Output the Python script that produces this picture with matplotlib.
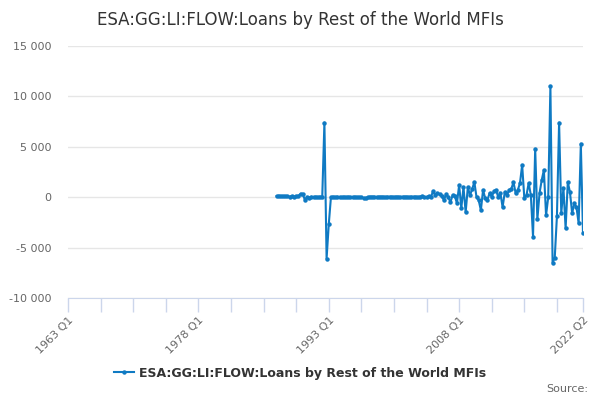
import matplotlib
matplotlib.use('Agg')
import matplotlib.pyplot as plt
from matplotlib.ticker import FuncFormatter, FixedLocator

# quarterly series, first observation 1987 Q1 (axis starts 1963 Q1)
axis_start_year = 1963
n_quarters = 238          # 1963 Q1 .. 2022 Q2
data_start = 96           # 1987 Q1
values = [
    100, 150, 100, 100, 80, 100, 50, 100, 50, 100,
    100, 350, 300, -250, 0, -50, 50, 0, 50, 0,
    50, 0, 7400, -6100, -2700,
    0, 50, 0, 50, 0, 0, 50, 0, 50, 0,
    0, 50, 0, 0, 0, -100, -100, 0, 50, 50,
    50, 0, 50, 50, 50, 0, 50, 50, 50, 0,
    50, 50, 0, 50, 50, 50, 0, 50, 50, 50,
    0, 50, 100, 0,
    0, 100, 0, 600, 200, 400, 300, 100, -300, 300,
    0, -500, 200, 100, -600, 1200, -1100, 1000, -1500, 1000,
    200, 800, 1500, 0, -300, -1300, 700, -100, -300, 400,
    0, 600, 700, 0, 400, -1000, 500, 200, 700, 800,
    1500, 400, 700, 1400, 3200, -100, 200, 1400, 200, -3900,
    4800, -2200, 400, 1700, 2700, -1800, 0, 11000, -6500, -6000,
    -1900, 7400, -1600, 900, -3100, 1500, 500, -1600, -600, -1000,
    -2600, 5300, -3600,
]
series_name = "ESA:GG:LI:FLOW:Loans by Rest of the World MFIs"
labelled_ticks = [0, 60, 120, 180, 237]


def quarter_label(i):
    return "%d Q%d" % (axis_start_year + i // 4, i % 4 + 1)


xs = list(range(data_start, data_start + len(values)))

fig = plt.figure(figsize=(6, 4), dpi=100)
ax = fig.add_axes([68 / 600, 1 - 298 / 400, 515 / 600, 252 / 400])

ax.plot(xs, values, color='#0f7ac3', lw=1.5, marker='o', ms=2.2,
        label=series_name)

ax.set_xlim(0, n_quarters - 1)
ax.set_ylim(-10000, 15000)
ax.set_yticks(range(-10000, 15001, 5000))
ax.yaxis.set_major_formatter(FuncFormatter(lambda v, p: f"{v:,.0f}".replace(',', ' ')))
ax.grid(axis='y', color='#e6e6e6', lw=1)
ax.set_axisbelow(True)

tick_pos = list(range(0, n_quarters - 1, 15)) + [n_quarters - 1]
ax.xaxis.set_major_locator(FixedLocator(tick_pos))
ax.set_xticklabels([quarter_label(t) if t in labelled_ticks else '' for t in tick_pos],
                   rotation=45, ha='right', rotation_mode='anchor')

for s in ['top', 'right', 'left']:
    ax.spines[s].set_visible(False)
ax.spines['bottom'].set_color('#ccd6eb')
ax.tick_params(axis='x', colors='#ccd6eb', length=10, width=1, labelcolor='#666666',
               labelsize=8, pad=2)
ax.tick_params(axis='y', length=0, labelcolor='#666666', labelsize=8, pad=12)

fig.text(0.5, 0.95, series_name, ha='center', va='center', fontsize=12, color='#333333')

leg = fig.legend(loc='center', bbox_to_anchor=(0.5, 1 - 373 / 400), frameon=False,
                 prop={'weight': 'bold', 'size': 9}, handlelength=1.6, handletextpad=0.4)
for t in leg.get_texts():
    t.set_color('#333333')

fig.text(588 / 600, 1 - 389 / 400, "Source:", ha='right', va='center', fontsize=8, color='#666666')

fig.savefig('out.png', dpi=100)
